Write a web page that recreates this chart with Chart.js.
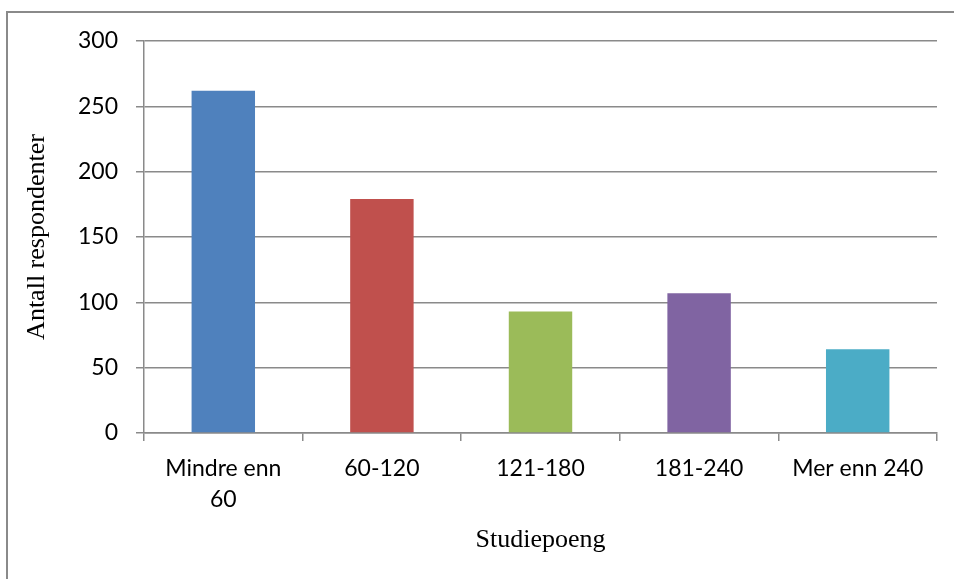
<!DOCTYPE html>
<html>
<head>
<meta charset="utf-8">
<script src="https://cdn.jsdelivr.net/npm/chart.js@4/dist/chart.umd.min.js"></script>
<style>
  html, body { margin: 0; padding: 0; background: #ffffff; }
  #wrap { width: 954px; height: 579px; position: relative; }
</style>
</head>
<body>
<div id="wrap"><canvas id="chart" width="954" height="579"></canvas></div>
<script>
// Study points bands and number of respondents in each
const categories = [["Mindre enn", "60"], "60-120", "121-180", "181-240", "Mer enn 240"];
const respondents = [262, 179, 93, 107, 64];
const barColors = ["#4F81BD", "#C0504D", "#9BBB59", "#8064A2", "#4BACC6"];
const yTicks = [0, 50, 100, 150, 200, 250, 300];

const gridGray = "#8a8a8a";

// Thin frame along the top and left edges of the figure
const framePlugin = {
  id: "frame",
  afterDraw(chart) {
    const ctx = chart.ctx;
    ctx.save();
    ctx.strokeStyle = gridGray;
    ctx.lineWidth = 2;
    ctx.beginPath();
    ctx.moveTo(7, 579);
    ctx.lineTo(7, 12);
    ctx.lineTo(954, 12);
    ctx.stroke();
    ctx.restore();
  }
};

new Chart(document.getElementById("chart"), {
  type: "bar",
  data: {
    labels: categories,
    datasets: [{
      data: respondents,
      backgroundColor: barColors,
      borderWidth: 0,
      categoryPercentage: 1,
      barPercentage: 0.4
    }]
  },
  options: {
    responsive: false,
    animation: false,
    devicePixelRatio: 1,
    layout: { padding: { top: 41, right: 17, left: 0, bottom: 0 } },
    plugins: { legend: { display: false }, tooltip: { enabled: false } },
    scales: {
      x: {
        grid: {
          offset: true,
          drawOnChartArea: false,
          drawTicks: true,
          tickLength: 8,
          color: gridGray,
          lineWidth: 1.5
        },
        border: { display: true, color: gridGray, width: 1.5 },
        ticks: {
          color: "#000000",
          font: { family: "Lato", size: 23, lineHeight: 1.35 },
          padding: 12,
          maxRotation: 0,
          autoSkip: false
        },
        title: {
          display: true,
          text: "Studiepoeng",
          color: "#000000",
          font: { family: "'Liberation Serif', 'Times New Roman', serif", size: 26, lineHeight: 1 },
          padding: { top: 0, bottom: 26 }
        },
        afterFit(scale) { scale.height = 146; }
      },
      y: {
        min: 0,
        max: 300,
        afterBuildTicks(scale) { scale.ticks = yTicks.map(v => ({ value: v })); },
        grid: {
          drawTicks: true,
          tickLength: 8,
          color: gridGray,
          lineWidth: 1.5
        },
        border: { display: true, color: gridGray, width: 1.5 },
        ticks: {
          color: "#000000",
          font: { family: "Lato", size: 23 },
          padding: 18
        },
        title: {
          display: true,
          text: "Antall respondenter",
          color: "#000000",
          font: { family: "'Liberation Serif', 'Times New Roman', serif", size: 26, lineHeight: 1 },
          padding: { top: 24, bottom: 0 }
        },
        afterFit(scale) { scale.width = 144; }
      }
    }
  },
  plugins: [framePlugin]
});
</script>
</body>
</html>
